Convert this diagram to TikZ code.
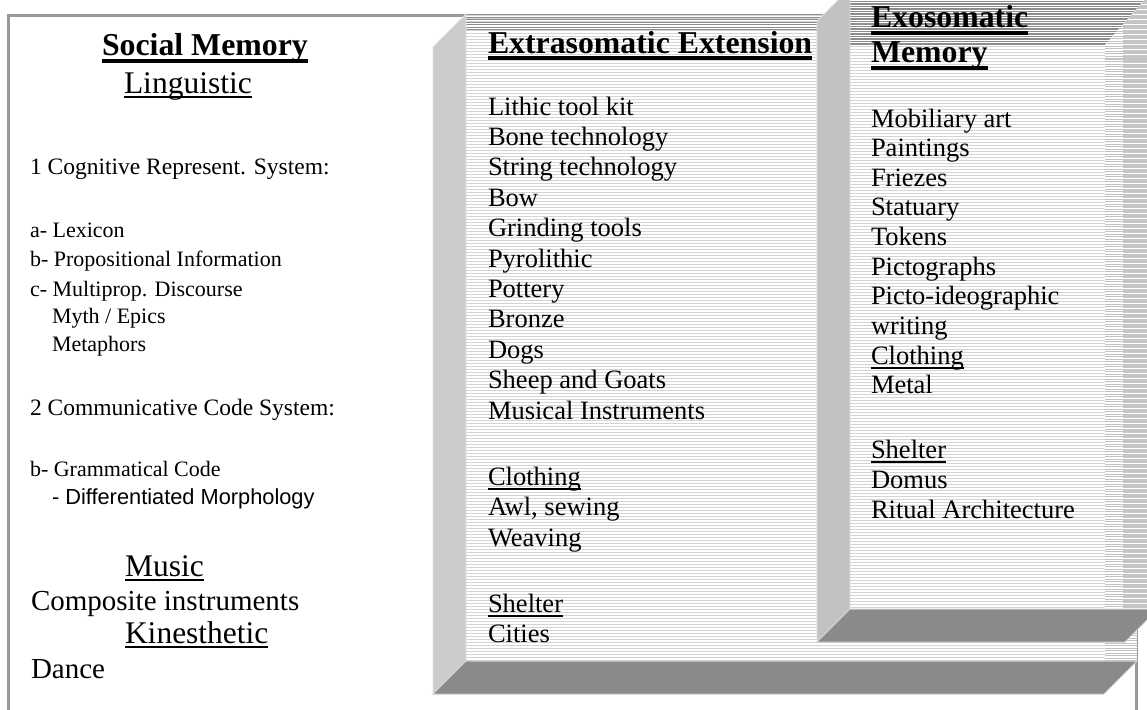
\documentclass[tikz,border=0pt]{standalone}
\usepackage{fontspec}
\setmainfont{Liberation Serif}
\newfontfamily\arialfont{Liberation Sans}
% underlined text: #1 rule thickness, #2 depth of the rule's lower edge, #3 text
\newcommand\ulx[3]{\setbox0=\hbox{#3}\rlap{\rule[-#2]{\wd0}{#1}}\box0}

\begin{document}
\begin{tikzpicture}[x=1pt,y=-1pt,
  txt/.style={anchor=base west,inner sep=0pt,outer sep=0pt,font=\fontsize{26.5}{30}\selectfont},
  ttl/.style={txt,font=\fontsize{31.8}{35}\selectfont\bfseries},
  hd/.style={txt,font=\fontsize{31.5}{35}\selectfont},
  mid/.style={txt,font=\fontsize{23.5}{28}\selectfont},
  sml/.style={txt,font=\fontsize{22}{26}\selectfont},
  sans/.style={txt,font=\fontsize{21.8}{25}\selectfont\arialfont},
  mus/.style={txt,font=\fontsize{29}{33}\selectfont},
  frameline/.style={draw=black!40,line width=3pt},
  stripe/.style={line width=1pt,black!17},
  denseline/.style={line width=1.4pt,black!45},
  sidestripe/.style={line width=1pt,black!24},
  sideface/.style={fill=black!20,draw=black!12,line width=0.8pt},
  baseface/.style={fill=black!46,draw=black!18,line width=1pt}
]
\useasboundingbox (0,0) rectangle (1147,709);
\clip (0,0) rectangle (1147,709);

% outer frame
\draw[frameline] (8.5,15.5) rectangle (1136.5,760);

% ---- extrasomatic block: striped front face
\begin{scope}
  \clip (466,14) rectangle (1137,661);
  \fill[white] (466,14) rectangle (1137,661);
  \foreach \yy in {15.5,18.5,...,661} \draw[stripe] (466,\yy) -- (1137,\yy);
  \foreach \yy in {14.8,17.3,...,32} \draw[denseline] (466,\yy) -- (1137,\yy);
\end{scope}
\begin{scope}
  \clip (1105,32) rectangle (1137,661);
  \fill[white] (1105,32) rectangle (1137,661);
  \foreach \yy in {33,35.5,...,661} \draw[sidestripe] (1105,\yy) -- (1137,\yy);
\end{scope}
% side and base faces
\path[sideface] (466,14) -- (433,47) -- (433,694) -- (466,661) -- cycle;
\path[baseface] (466,661) -- (1137,661) -- (1104,694) -- (433,694) -- cycle;

% ---- exosomatic block: striped front face
\begin{scope}
  \clip (850,-12) rectangle (1160,609);
  \fill[white] (850,-12) rectangle (1160,609);
  \foreach \yy in {46.5,49.5,...,609} \draw[stripe] (850,\yy) -- (1160,\yy);
\end{scope}
\begin{scope}
  \clip (850,-12) -- (1155,-12) -- (1105,45) -- (850,45) -- cycle;
  \foreach \yy in {-11,-8.5,...,45} \draw[denseline] (850,\yy) -- (1160,\yy);
\end{scope}
\begin{scope}
  \clip (1155,-12) -- (1160,-12) -- (1160,609) -- (1105,609) -- (1105,45) -- cycle;
  \fill[white] (1100,-12) rectangle (1160,609);
  \foreach \yy in {-11,-8.5,...,609} \draw[sidestripe] (1100,\yy) -- (1160,\yy);
  \foreach \yy in {-10,-7.5,...,609} \draw[line width=0.8pt,black!22] (1123,\yy) -- (1160,\yy);
\end{scope}
\path[sideface,fill=black!24] (850,-12) -- (817,21) -- (817,642) -- (850,609) -- cycle;
\path[baseface] (850,609) -- (1158,609) -- (1125,642) -- (817,642) -- cycle;

% ---- social memory column
\node[ttl] (smem) at (102,56) {\ulx{3.5pt}{7pt}{Social Memory}};
\node[hd] (ling) at (124,93) {\ulx{2pt}{5pt}{Linguistic}};
\node[mid] (cog) at (30,174) {1 Cognitive Represent. System:};
\node[sml] (lex) at (30,237) {a- Lexicon};
\node[sml] (prop) at (30,266) {b- Propositional Information};
\node[sml] (multi) at (30,296) {c- Multiprop. Discourse};
\node[sml] (myth) at (52,323) {Myth / Epics};
\node[sml] (meta) at (52,351) {Metaphors};
\node[mid] (comm) at (30,415) {2 Communicative Code System:};
\node[sml] (gram) at (30,476) {b- Grammatical Code};
\node[sans] (morph) at (52,504) {- Differentiated Morphology};
\node[hd] (music) at (125,576) {\ulx{2pt}{5pt}{Music}};
\node[mus] (comp) at (31,610) {Composite instruments};
\node[hd] (kin) at (125,643) {\ulx{2pt}{5pt}{Kinesthetic}};
\node[mus] (dance) at (31,678) {Dance};

% ---- extrasomatic extension column
\node[ttl] (ext) at (488,53) {\ulx{3.5pt}{7pt}{Extrasomatic Extension}};
\foreach \t [count=\i from 0] in {Lithic tool kit,Bone technology,String technology,Bow,Grinding tools,Pyrolithic,Pottery,Bronze,Dogs,Sheep and Goats,Musical Instruments}
  \node[txt] (ext-\i) at (488,{115+\i*30.4}) {\t};
\node[txt] (ext-cl) at (488,485) {\ulx{1.6pt}{4.5pt}{Clothing}};
\node[txt] (ext-awl) at (488,515.5) {Awl, sewing};
\node[txt] (ext-wv) at (488,546) {Weaving};
\node[txt] (ext-sh) at (488,612) {\ulx{1.6pt}{4.5pt}{Shelter}};
\node[txt] (ext-ct) at (488,642.5) {Cities};

% ---- exosomatic memory column
\node[ttl] (exo1) at (871,28) {\ulx{3.5pt}{7pt}{Exosomatic}};
\node[ttl] (exo2) at (871,63) {\ulx{3.5pt}{7pt}{Memory}};
\foreach \t [count=\i from 0] in {Mobiliary art,Paintings,Friezes,Statuary,Tokens,Pictographs,Picto-ideographic,writing}
  \node[txt] (exo-\i) at (871,{127+\i*29.6}) {\t};
\node[txt] (exo-cl) at (871,364) {\ulx{1.6pt}{4.5pt}{Clothing}};
\node[txt] (exo-mt) at (871,393.5) {Metal};
\node[txt] (exo-sh) at (871,458) {\ulx{1.6pt}{4.5pt}{Shelter}};
\node[txt] (exo-dm) at (871,488) {Domus};
\node[txt] (exo-ra) at (871,518) {Ritual Architecture};
\end{tikzpicture}
\end{document}
